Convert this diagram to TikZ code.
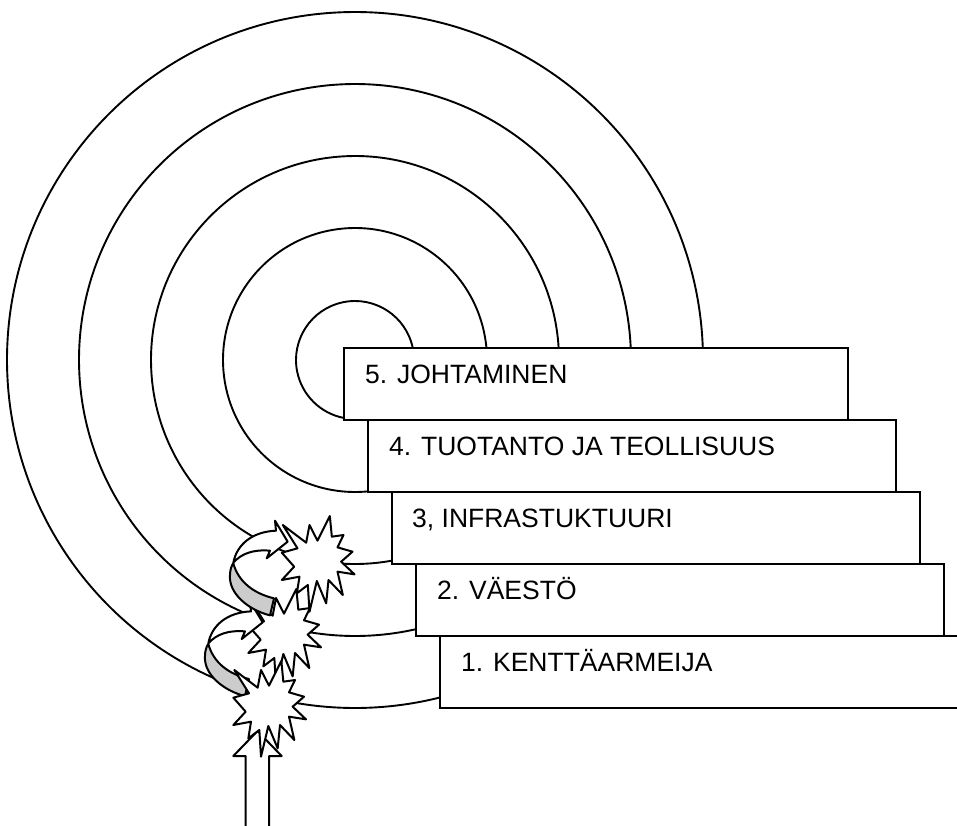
\documentclass[tikz,border=0pt]{standalone}
\usepackage{fontspec}
\setmainfont{Liberation Sans}
\definecolor{armgray}{RGB}{204,204,204}
\tikzset{
  box/.style={draw=black,fill=white,line width=2pt,minimum height=72pt,inner sep=0pt,outer sep=0pt,anchor=north west},
  lbl/.style={font=\fontsize{26.5}{30}\selectfont,anchor=base west,inner sep=0pt},
  ring/.style={draw=black,line width=1.9pt},
  shape line/.style={draw=black,line width=2pt,line join=round},
  burst/.style={shape line,fill=white},
  arm/.style={shape line,fill=white},
  armback/.style={shape line,fill=armgray}
}
\newcommand{\burstpath}{(28,30) -- (98,83) -- (108,30) -- (132,77) -- (169,3) -- (175,65) -- (210,60) -- (192,97) -- (237,110) -- (203,140) -- (243,178) -- (192,170) -- (208,240) -- (165,195) -- (158,265) -- (130,198) -- (108,290) -- (103,210) -- (70,235) -- (78,185) -- (25,195) -- (62,155) -- (25,113) -- (72,100) -- cycle}
\newcommand{\curvedarm}{%
  \draw[armback] (25,160) .. controls (40,215) and (85,250) .. (147,265) -- (135,316) .. controls (70,300) and (10,250) .. (15,195) .. controls (15,180) and (20,165) .. (25,160) -- cycle;
  \draw[arm] (25,158) .. controls (35,105) and (80,65) .. (153,62) -- (150,32) -- (188,95) -- (125,145) -- (135,122) .. controls (85,118) and (50,130) .. (25,158) -- cycle;
}
\begin{document}
\begin{tikzpicture}[x=1pt,y=-1pt]
\clip (0,0) rectangle (957,825);
\fill[white] (0,0) rectangle (957,825);
\coordinate (c) at (355,360);
% rings
\foreach \r/\xe in {59/344,132/368,204/392,276/416,348/440}{
  \pgfmathsetmacro{\sa}{asin(12/\r)}
  \pgfmathsetmacro{\ea}{360-acos((\xe-355)/\r)}
  \draw[ring] ([shift=(\sa:\r pt)]c) arc[start angle=\sa,end angle=\ea,radius=\r pt];
}
% steps
\node[box,minimum width=504pt] (r5) at (344,348) {};
\node[box,minimum width=528pt] (r4) at (368,420) {};
\node[box,minimum width=528pt] (r3) at (392,492) {};
\node[box,minimum width=528pt] (r2) at (416,564) {};
\node[box,minimum width=540pt] (r1) at (440,636) {};
\node[lbl] (t5) at (365,383) {5. JOHTAMINEN};
\node[lbl] (t4) at (389,455) {4. TUOTANTO JA TEOLLISUUS};
\node[lbl] (t3) at (412,527) {3, INFRASTUKTUURI};
\node[lbl] (t2) at (437,599) {2. VÄESTÖ};
\node[lbl] (t1) at (461,671) {1. KENTTÄARMEIJA};
% entry arrow
\draw[shape line,fill=white] (245.7,830) -- (245.7,756) -- (233.3,756) -- (257.5,731) -- (281.7,756) -- (269,756) -- (269,830);
% bursts and curved arrows
\begin{scope}[shift={(273.5,515)},scale=1/3]
  \draw[burst] \burstpath;
\end{scope}
\begin{scope}[shift={(240,588)},scale=1/3]
  \draw[burst] \burstpath;
\end{scope}
\begin{scope}[shift={(200,590.7)},scale=1/3]
  \curvedarm
\end{scope}
\begin{scope}[shift={(225,510)},scale=1/3]
  \curvedarm
\end{scope}
\begin{scope}[shift={(225,660)},scale=1/3]
  \draw[burst] \burstpath;
\end{scope}
\end{tikzpicture}
\end{document}
